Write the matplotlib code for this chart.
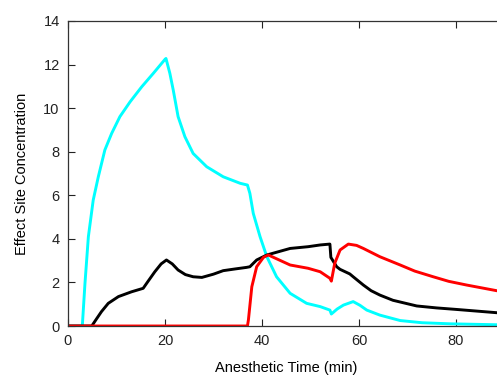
import matplotlib
matplotlib.use("Agg")
import matplotlib.pyplot as plt

plt.rcParams['font.family'] = ['Liberation Sans', 'DejaVu Sans']

# cyan drug
t_cyan = [0, 2.95, 3.5, 4.2, 5.2, 6.25, 7.6, 9.0, 10.7, 12.8, 15.2, 17.6, 20.0,
          20.2, 21.0, 21.7, 22.7, 24.1, 25.8, 28.6, 32.0, 35.5, 37.0, 37.5,
          38.2, 39.6, 41.0, 43.0, 45.8, 49.2, 52, 54.0, 54.3, 55.5, 56.8, 58.8,
          60.2, 61.6, 64.3, 68.5, 73, 78.8, 90]
c_cyan = [0, 0, 1.96, 4.1, 5.78, 6.85, 8.08, 8.84, 9.61, 10.29, 10.98, 11.6,
          12.24, 12.28, 11.6, 10.83, 9.61, 8.69, 7.92, 7.31, 6.85, 6.55, 6.47,
          6.09, 5.17, 4.1, 3.18, 2.26, 1.5, 1.04, 0.89, 0.73, 0.55, 0.78, 0.96,
          1.12, 0.95, 0.73, 0.5, 0.25, 0.15, 0.1, 0.05]

# black drug
t_black = [0, 4.9, 5.8, 6.9, 8.3, 10.4, 13.1, 15.5, 16.5, 17.9, 19.2, 20.3,
           21.5, 22.7, 24.2, 25.8, 27.6, 30, 32, 34.5, 36.8, 37.5, 38.9, 41,
           45.8, 49.5, 52, 54.0, 54.2, 55.4, 56.1, 58.1, 58.8, 60.9, 62.5, 64.3,
           67, 71.9, 76, 80.1, 88.4, 90]
c_black = [0, 0, 0.3, 0.66, 1.04, 1.35, 1.57, 1.73, 2.05, 2.49, 2.85, 3.03,
           2.85, 2.57, 2.36, 2.26, 2.23, 2.38, 2.54, 2.62, 2.69, 2.72, 3.03,
           3.26, 3.56, 3.64, 3.72, 3.76, 3.15, 2.72, 2.6, 2.39, 2.26, 1.88, 1.62,
           1.42, 1.18, 0.92, 0.83, 0.76, 0.61, 0.58]

# red drug
t_red = [0, 37, 37.2, 37.9, 38.9, 40.3, 41.3, 45.8, 49.5, 52, 54.0, 54.3, 55,
         56.1, 57.8, 59.5, 60.9, 64.3, 68.5, 71.5, 75.3, 78.5, 82.2, 88.4, 90]
c_red = [0, 0, 0.28, 1.8, 2.72, 3.15, 3.26, 2.8, 2.65, 2.49, 2.19, 2.06, 2.88,
         3.49, 3.76, 3.7, 3.56, 3.18, 2.8, 2.52, 2.26, 2.05, 1.88, 1.62, 1.55]

fig = plt.figure(figsize=(4.97, 3.77), dpi=100)
ax = fig.add_axes([68 / 497, 51 / 377, 436.5 / 497, 305 / 377])

ax.plot(t_cyan, c_cyan, color='#00ffff', lw=2.1)
ax.plot(t_black, c_black, color='black', lw=2.1)
ax.plot(t_red, c_red, color='#ff0000', lw=2.1)

ax.set_xlim(0, 90)
ax.set_ylim(0, 14)
ax.set_xticks([0, 20, 40, 60, 80])
ax.set_yticks(range(0, 15, 2))
ax.tick_params(direction='in', length=5, width=0.8, top=True, right=True,
               labelsize=10.5, colors='#222222', pad=6)
for s in ax.spines.values():
    s.set_color('#333333')
    s.set_linewidth(0.9)

ax.set_xlabel('Anesthetic Time (min)', fontsize=10.5, labelpad=9)
ax.set_ylabel('Effect Site Concentration', fontsize=10.5, labelpad=10)

fig.savefig('out.png', dpi=100)
